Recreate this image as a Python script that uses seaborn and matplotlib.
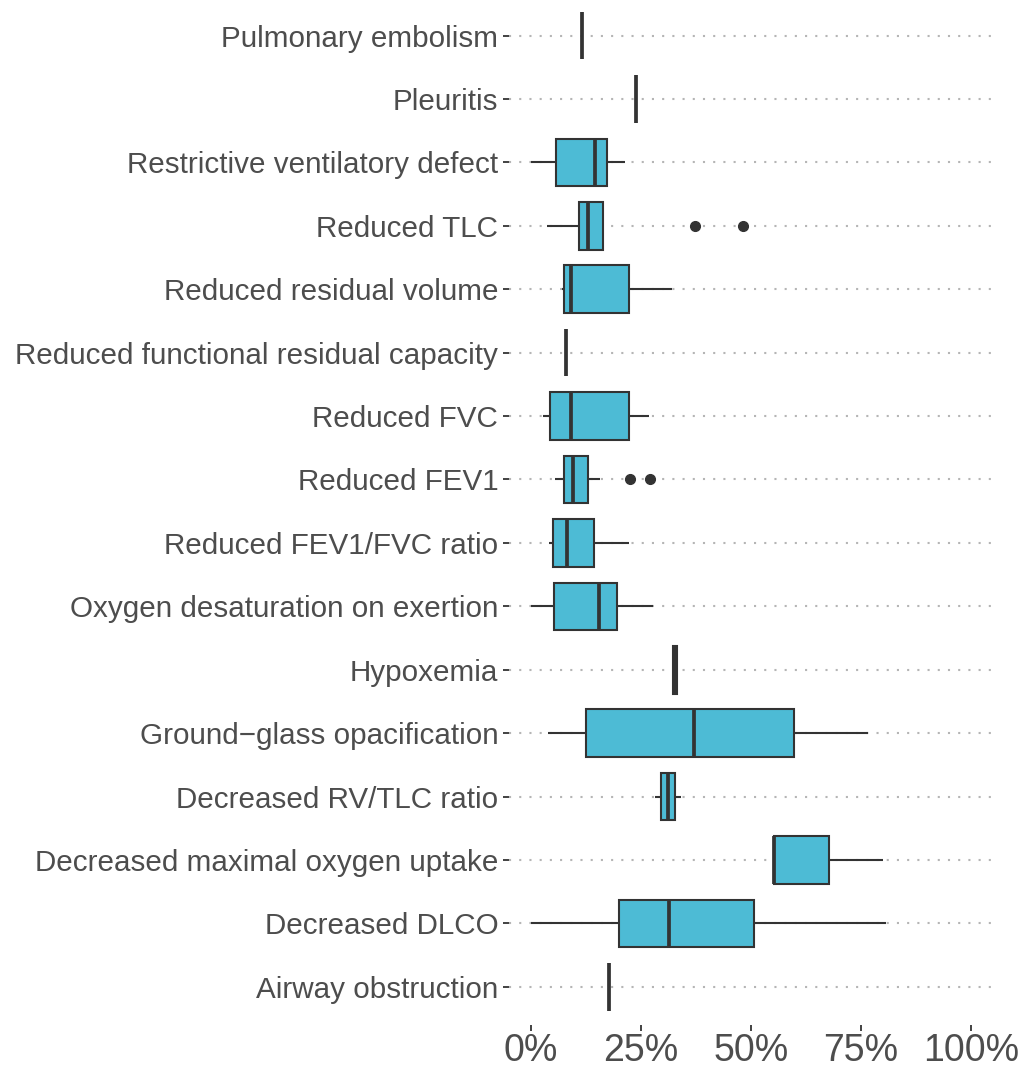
import numpy as np
import pandas as pd
import seaborn as sns
import matplotlib.pyplot as plt

# categories, top to bottom as shown
categories = [
    "Pulmonary embolism",
    "Pleuritis",
    "Restrictive ventilatory defect",
    "Reduced TLC",
    "Reduced residual volume",
    "Reduced functional residual capacity",
    "Reduced FVC",
    "Reduced FEV1",
    "Reduced FEV1/FVC ratio",
    "Oxygen desaturation on exertion",
    "Hypoxemia",
    "Ground\u2212glass opacification",
    "Decreased RV/TLC ratio",
    "Decreased maximal oxygen uptake",
    "Decreased DLCO",
    "Airway obstruction",
]

# prevalence values (%), one list per category
pulmonary_embolism = [11.7]
pleuritis = [24.0]
restrictive_defect = [0.1, 5.8, 14.5, 17.3, 21.4]
reduced_tlc = [3.8, 7.0, 9.0, 11.0, 12.0, 12.5, 12.9, 14.0, 15.5, 16.5, 16.6, 37.2, 48.1]
reduced_rv = [7.1, 7.5, 9.1, 22.3, 32.0]
reduced_frc = [8.1]
reduced_fvc = [2.7, 4.4, 9.2, 22.4, 26.9]
reduced_fev1 = [5.4, 6.0, 7.0, 7.6, 8.5, 9.0, 9.5, 11.0, 12.0, 12.9, 15.8, 22.6, 27.0]
reduced_fev1_fvc = [4.2, 5.1, 8.3, 14.3, 22.4]
o2_desaturation = [0.1, 5.3, 15.4, 19.5, 27.7]
hypoxemia = [32.3, 32.3, 32.8, 33.3, 33.3]
ground_glass = [3.9, 12.6, 37.1, 59.8, 76.5]
decreased_rv_tlc = [28.2, 29.5, 31.1, 32.8, 34.1]
decreased_vo2max = [55.3, 55.3, 55.3, 67.8, 80.1]
decreased_dlco = [0.1, 20.0, 31.4, 50.6, 80.7]
airway_obstruction = [17.8]

series = [
    pulmonary_embolism, pleuritis, restrictive_defect, reduced_tlc, reduced_rv,
    reduced_frc, reduced_fvc, reduced_fev1, reduced_fev1_fvc, o2_desaturation,
    hypoxemia, ground_glass, decreased_rv_tlc, decreased_vo2max, decreased_dlco,
    airway_obstruction,
]

df = pd.DataFrame(
    [(cat, v) for cat, vals in zip(categories, series) for v in vals],
    columns=["outcome", "pct"],
)

sns.set_style("white")
plt.rcParams["font.family"] = ["Liberation Sans", "DejaVu Sans"]

fig = plt.figure(figsize=(10.24, 10.69), dpi=100)
ax = fig.add_axes([0.4968, 0.0412, 0.473, 0.9588])

# dotted horizontal guides behind the boxes
for i in range(len(categories)):
    ax.axhline(i, color="#b5b5b5", lw=1.5, linestyle=(0, (1, 3.9)), zorder=0)

sns.boxplot(
    data=df, x="pct", y="outcome", order=categories,
    color="#4DBBD5", saturation=1, width=0.75, whis=1.5,
    linecolor="#333333", linewidth=1.5, showcaps=False,
    medianprops=dict(color="#333333", linewidth=2.7),
    flierprops=dict(marker="o", markerfacecolor="#333333",
                    markeredgecolor="#333333", markersize=7),
    ax=ax,
)

ax.set_xlim(-5, 105)
ax.set_ylim(15.6, -0.56)
ax.set_xticks([0, 25, 50, 75, 100])
ax.set_xticklabels(["0%", "25%", "50%", "75%", "100%"])
ax.set_xlabel("")
ax.set_ylabel("")
ax.grid(False)
for s in ax.spines.values():
    s.set_visible(False)

ax.tick_params(axis="y", length=4.5, width=1.3, color="#333333",
               labelsize=21.3, labelcolor="#4d4d4d", pad=3, left=True)
ax.tick_params(axis="x", length=4.5, width=1.3, color="#333333",
               labelsize=27, labelcolor="#4d4d4d", pad=1, bottom=True)

fig.savefig("out.png", dpi=100)
